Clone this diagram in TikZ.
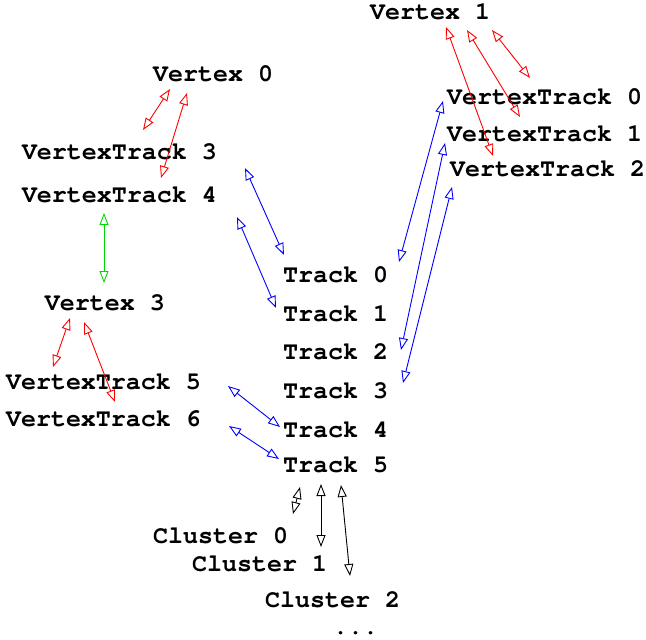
\documentclass[tikz,border=0pt]{standalone}
\usepackage{fontspec}
\newfontfamily\cursorfont{TeX Gyre Cursor}
\usetikzlibrary{arrows.meta}
\definecolor{lgreen}{RGB}{0,215,0}
\tikzset{
  lbl/.style={anchor=base west, inner sep=0pt, outer sep=0pt,
    font=\cursorfont\bfseries\fontsize{25}{30}\selectfont},
  link/.style={line width=0.9pt,
    {Triangle[open,length=12pt,width=9pt]}-{Triangle[open,length=12pt,width=9pt]}},
  vlink/.style={link, red},
  tlink/.style={link, blue},
  glink/.style={link, lgreen},
  clink/.style={link, black}
}
\begin{document}
\begin{tikzpicture}[x=1pt,y=-1pt]
\useasboundingbox (0,0) rectangle (646,640);
% labels
\node[lbl] (v1)  at (370,19)  {Vertex 1};
\node[lbl] (v0)  at (153,81)  {Vertex 0};
\node[lbl] (vt0) at (447,104) {VertexTrack 0};
\node[lbl] (vt1) at (447,141) {VertexTrack 1};
\node[lbl] (vt2) at (450,176) {VertexTrack 2};
\node[lbl] (vt3) at (22,159)  {VertexTrack 3};
\node[lbl] (vt4) at (22,202)  {VertexTrack 4};
\node[lbl] (v3)  at (45,310)  {Vertex 3};
\node[lbl] (vt5) at (6,389)   {VertexTrack 5};
\node[lbl] (vt6) at (6,426)   {VertexTrack 6};
\node[lbl] (t0)  at (283,282) {Track 0};
\node[lbl] (t1)  at (283,321) {Track 1};
\node[lbl] (t2)  at (283,359) {Track 2};
\node[lbl] (t3)  at (283,398) {Track 3};
\node[lbl] (t4)  at (283,437) {Track 4};
\node[lbl] (t5)  at (283,472) {Track 5};
\node[lbl] (c0)  at (153,543) {Cluster 0};
\node[lbl] (c1)  at (192,571) {Cluster 1};
\node[lbl] (c2)  at (265,607) {Cluster 2};
\node[lbl] (dots) at (333,634) {...};
% connector end points
\coordinate (v1a) at (446,27);  \coordinate (vt2a) at (493,156);
\coordinate (v1b) at (467,30);  \coordinate (vt1a) at (520,117);
\coordinate (v1c) at (492,30);  \coordinate (vt0a) at (530,78);
\coordinate (vt0b) at (443,101); \coordinate (t0a) at (399,262);
\coordinate (vt1b) at (445,143); \coordinate (t2a) at (401,350);
\coordinate (vt2b) at (452,187); \coordinate (t3a) at (403,383);
\coordinate (v0a) at (170,89);  \coordinate (vt3a) at (143,130);
\coordinate (v0b) at (187,93);  \coordinate (vt4a) at (161,178);
\coordinate (vt4b) at (104,213); \coordinate (v3a) at (104,283);
\coordinate (vt3b) at (245,168); \coordinate (t0b) at (284,255);
\coordinate (vt4c) at (237,217); \coordinate (t1a) at (276,308);
\coordinate (v3b) at (70,318);  \coordinate (vt5a) at (53,367);
\coordinate (v3c) at (84,322);  \coordinate (vt6a) at (115,402);
\coordinate (vt5b) at (228,386); \coordinate (t4a) at (280,427);
\coordinate (vt6b) at (229,426); \coordinate (t5a) at (279,459);
\coordinate (t5b) at (300,487); \coordinate (c0a) at (293,514);
\coordinate (t5c) at (321,484); \coordinate (c1a) at (321,547);
\coordinate (t5d) at (341,485); \coordinate (c2a) at (350,576);
% connectors
\draw[vlink] (v1a) -- (vt2a);
\draw[vlink] (v1b) -- (vt1a);
\draw[vlink] (v1c) -- (vt0a);
\draw[tlink] (vt0b) -- (t0a);
\draw[tlink] (vt1b) -- (t2a);
\draw[tlink] (vt2b) -- (t3a);
\draw[vlink] (v0a) -- (vt3a);
\draw[vlink] (v0b) -- (vt4a);
\draw[glink] (vt4b) -- (v3a);
\draw[tlink] (vt3b) -- (t0b);
\draw[tlink] (vt4c) -- (t1a);
\draw[vlink] (v3b) -- (vt5a);
\draw[vlink] (v3c) -- (vt6a);
\draw[tlink] (vt5b) -- (t4a);
\draw[tlink] (vt6b) -- (t5a);
\draw[clink] (t5b) -- (c0a);
\draw[clink] (t5c) -- (c1a);
\draw[clink] (t5d) -- (c2a);
\end{tikzpicture}
\end{document}
